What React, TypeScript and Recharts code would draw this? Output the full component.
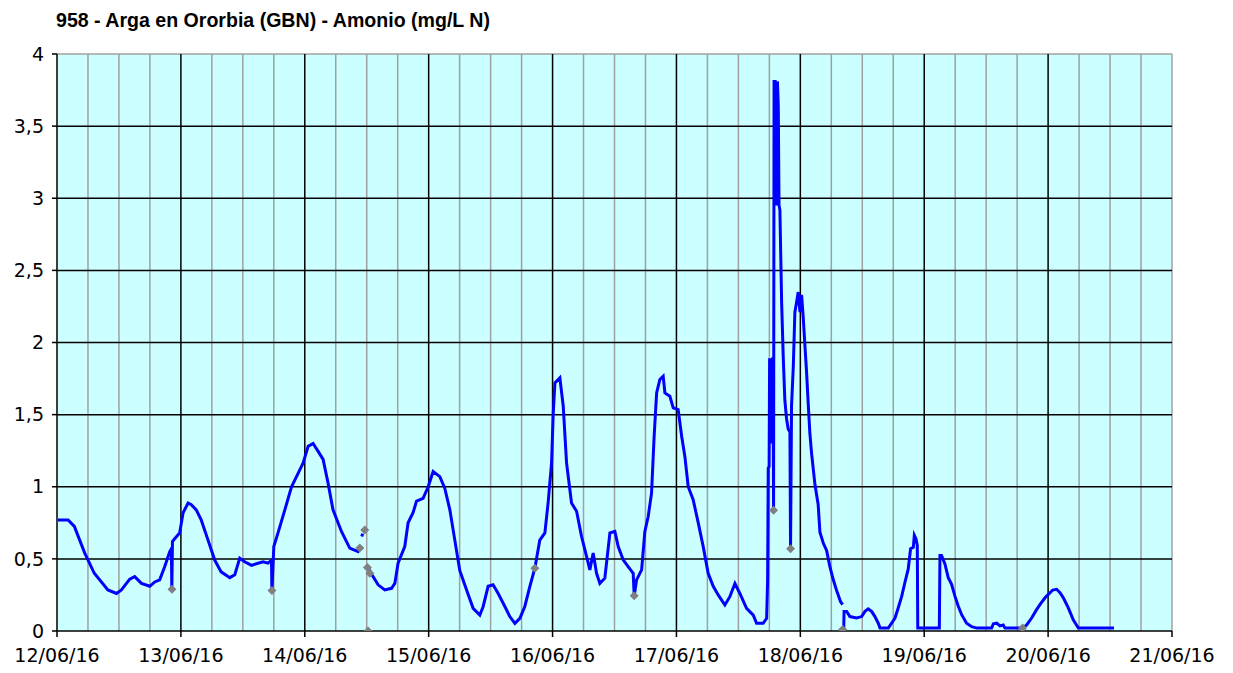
import { ComposedChart, Line, Scatter, XAxis, YAxis, ReferenceLine, ReferenceArea } from "recharts"

// time in days since 12/06/16 00:00, null = gap in the record
const lineT = [
  0.008, 0.09, 0.14, 0.224, 0.301, 0.411, 0.48, 0.52, 0.587, 0.627, 0.682, 0.749, 0.789, 0.829, 0.869, 0.91, 0.923, 0.927,
  0.932, 0.95, 0.99, 1.018, 1.058, 1.084, 1.124, 1.164, 1.219, 1.274, 1.325, 1.395, 1.435, 1.475, 1.515, 1.57, 1.623,
  1.663, 1.703, 1.731, 1.735, 1.75, 1.784, 1.839, 1.893, 1.947, 1.987, 2.027, 2.067, 2.108, 2.148, 2.188, 2.228,
  2.296, 2.363, 2.43, 2.458, 2.459, 2.46, 2.467, 2.48, 2.505, 2.551, 2.592, 2.646, 2.7, 2.727, 2.753, 2.807, 2.834, 2.874,
  2.902, 2.955, 2.996, 3.036, 3.09, 3.13, 3.171, 3.211, 3.251, 3.306, 3.359, 3.413, 3.44, 3.48, 3.52, 3.561, 3.615, 3.655,
  3.696, 3.736, 3.776, 3.817, 3.857, 3.897, 3.938, 3.964, 3.992, 4.005, 4.019, 4.059, 4.086, 4.113, 4.153, 4.194, 4.234,
  4.275, 4.301, 4.328, 4.355, 4.382,
  4.422, 4.463, 4.503, 4.53, 4.57, 4.61, 4.651, 4.659, 4.678, 4.719, 4.745, 4.772, 4.799, 4.82, 4.84, 4.866, 4.893, 4.907,
  4.947, 4.974, 5.014, 5.042, 5.068, 5.095, 5.135, 5.176, 5.216, 5.256, 5.297, 5.337, 5.391, 5.431, 5.472, 5.512, 5.566,
  5.62, 5.647, 5.7, 5.728, 5.736,
  5.741, 5.748, 5.752, 5.756, 5.761, 5.765, 5.77, 5.774, 5.779, 5.784, 5.788, 5.793, 5.797, 5.802, 5.806, 5.811, 5.815,
  5.822, 5.828, 5.835, 5.849, 5.862, 5.875, 5.889, 5.902, 5.916, 5.921, 5.929, 5.943, 5.956, 5.97, 5.983, 5.997, 6.01,
  6.023, 6.037, 6.05, 6.064, 6.077, 6.091, 6.118, 6.144, 6.158, 6.185, 6.212, 6.239, 6.266, 6.293, 6.325, 6.341,
  6.346, 6.35, 6.353, 6.374, 6.4, 6.454, 6.495, 6.522, 6.548, 6.575, 6.602, 6.629, 6.643, 6.71, 6.737, 6.764, 6.79, 6.818,
  6.844, 6.871, 6.89, 6.912, 6.92, 6.933, 6.944, 6.948, 7.122, 7.127, 7.14, 7.167, 7.194, 7.221, 7.248, 7.275, 7.302,
  7.342, 7.383, 7.423, 7.544, 7.558, 7.585, 7.611, 7.638, 7.652, 7.794, 7.827, 7.867, 7.907, 7.934, 7.975, 8.002, 8.037,
  8.069, 8.096, 8.123, 8.163, 8.203, 8.244, 8.532,
]
const lineV = [
  0.77, 0.77, 0.725, 0.54, 0.4, 0.285, 0.26, 0.285, 0.36, 0.377, 0.33, 0.31, 0.34, 0.355, 0.445, 0.55, 0.57, 0.29,
  0.62, 0.64, 0.68, 0.82, 0.887, 0.875, 0.84, 0.77, 0.63, 0.49, 0.41, 0.37, 0.39, 0.505, 0.48, 0.455, 0.47,
  0.48, 0.47, 0.49, 0.28, 0.585, 0.68, 0.84, 1.0, 1.095, 1.165, 1.28, 1.3, 1.245, 1.19, 1.025, 0.84,
  0.69, 0.574, 0.55, 0.59, null, 0.655, 0.675, null, 0.45, 0.377, 0.32, 0.285, 0.296, 0.33, 0.47, 0.585, 0.75, 0.82,
  0.9, 0.92, 1.0, 1.106, 1.07, 0.99, 0.84, 0.63, 0.42, 0.285, 0.157, 0.11, 0.17, 0.31, 0.32, 0.26, 0.17, 0.1,
  0.053, 0.088, 0.17, 0.31, 0.435, 0.63, 0.68, 0.887, 1.165, 1.5, 1.72, 1.755, 1.56, 1.165, 0.887, 0.83, 0.655,
  0.516, 0.424, 0.54, 0.4, 0.33,
  0.366, 0.68, 0.69, 0.585, 0.493, 0.446, 0.4, 0.243, 0.354, 0.424, 0.69, 0.794, 0.956, 1.35, 1.65, 1.743, 1.766, 1.65,
  1.627, 1.547, 1.535, 1.35, 1.21, 1.0, 0.91, 0.75, 0.585, 0.4, 0.31, 0.25, 0.18, 0.238, 0.33, 0.26, 0.157,
  0.11, 0.053, 0.053, 0.088, 0.354,
  1.13, 1.14, 1.89, 1.3, 1.89, 1.3, 1.89, 1.3, 1.9, 0.837, 3.82, 2.95, 3.82, 2.95, 3.81, 2.95, 3.81,
  3.64, 2.95, 2.92, 2.28, 1.9, 1.6, 1.47, 1.4, 1.38, 0.571, 1.56, 1.83, 2.21, 2.28, 2.35, 2.21, 2.33,
  2.18, 1.98, 1.8, 1.57, 1.37, 1.23, 1.015, 0.876, 0.685, 0.61, 0.558, 0.444, 0.355, 0.28, 0.203, 0.183,
  null, 0.0, 0.136, 0.136, 0.1, 0.09, 0.1, 0.136, 0.153, 0.136, 0.1, 0.054, 0.02, 0.02, 0.054, 0.09, 0.16, 0.24,
  0.336, 0.43, 0.57, 0.58, 0.664, 0.64, 0.594, 0.02, 0.02, 0.523, 0.523, 0.465, 0.37, 0.324, 0.242, 0.171, 0.113,
  0.054, 0.03, 0.02, 0.02, 0.05, 0.054, 0.035, 0.042, 0.02, 0.02, 0.042, 0.09, 0.148, 0.183, 0.23, 0.254, 0.284,
  0.289, 0.265, 0.23, 0.16, 0.077, 0.02, 0.02,
]

// flagged (grey) samples
const flagT = [0.928, 1.735, 2.444, 2.484, 2.506, 2.525, 2.511, 3.857, 4.659, 5.784, 5.921, 6.342, 7.794]
const flagV = [0.29, 0.28, 0.575, 0.7, 0.44, 0.4, 0.0, 0.435, 0.245, 0.837, 0.571, 0.01, 0.02]

const dayLabels = ["12/06/16", "13/06/16", "14/06/16", "15/06/16", "16/06/16", "17/06/16", "18/06/16", "19/06/16", "20/06/16", "21/06/16"]
const yTicks = [0, 0.5, 1, 1.5, 2, 2.5, 3, 3.5, 4]

const series = lineT.map((t, i) => ({ t, v: lineV[i] }))
const flags = flagT.map((t, i) => ({ t, v: flagV[i] }))
const dayTicks = dayLabels.map((_, i) => i)
const quarterLines = Array.from({ length: 36 }, (_, i) => (i + 1) / 4).filter((q) => q % 1 !== 0)

const tickStyle = { fontFamily: "DejaVu Sans, Verdana, sans-serif", fontSize: 19, fill: "#000" }

function Diamond(props: any) {
  const { cx, cy } = props
  const r = 4.5
  return <polygon points={`${cx},${cy - r} ${cx + r},${cy} ${cx},${cy + r} ${cx - r},${cy}`} fill="#808080" />
}

export default function App() {
  return (
    <div style={{ position: "absolute", left: 0, top: 0, width: 1233, height: 673, background: "#fff" }}>
      <svg width={1233} height={40} style={{ position: "absolute", left: 0, top: 0 }}>
        <text
          x={56}
          y={26.5}
          textLength={434}
          lengthAdjust="spacingAndGlyphs"
          style={{ fontFamily: "Liberation Sans, Arial, sans-serif", fontSize: 21, fontWeight: "bold" }}
          fill="#000"
        >
          958 - Arga en Ororbia (GBN) - Amonio (mg/L N)
        </text>
      </svg>
      <ComposedChart width={1233} height={673} margin={{ top: 54, right: 61, left: 0, bottom: 12 }}>
        <XAxis
          dataKey="t"
          type="number"
          domain={[0, 9]}
          ticks={dayTicks}
          tickFormatter={(d) => dayLabels[d]}
          allowDataOverflow
          height={30}
          stroke="#000"
          strokeWidth={1.5}
          tickSize={6}
          tickMargin={12}
          tick={tickStyle}
          interval={0}
        />
        <YAxis
          type="number"
          domain={[0, 4]}
          ticks={yTicks}
          tickFormatter={(v) => String(v).replace(".", ",")}
          allowDataOverflow
          width={57}
          stroke="#000"
          strokeWidth={1.5}
          tickSize={5}
          tickMargin={8}
          tick={tickStyle}
          interval={0}
        />
        <ReferenceArea x1={0} x2={9} y1={0} y2={4} fill="#ccffff" fillOpacity={1} stroke="none" />
        {quarterLines.map((q) => (
          <ReferenceLine key={`q${q}`} x={q} stroke="#a0a0a0" strokeWidth={1.5} />
        ))}
        <ReferenceLine x={9} stroke="#a0a0a0" strokeWidth={1.5} />
        <ReferenceLine y={4} stroke="#a0a0a0" strokeWidth={1.5} />
        {dayTicks.slice(1, -1).map((d) => (
          <ReferenceLine key={`d${d}`} x={d} stroke="#000" strokeWidth={1.5} />
        ))}
        {yTicks.slice(1, -1).map((y) => (
          <ReferenceLine key={`y${y}`} y={y} stroke="#000" strokeWidth={1.5} />
        ))}
        <Line
          data={series}
          dataKey="v"
          type="linear"
          stroke="#0000ff"
          strokeWidth={3}
          dot={false}
          connectNulls={false}
          isAnimationActive={false}
        />
        <Scatter data={flags} dataKey="v" shape={Diamond} isAnimationActive={false} />
      </ComposedChart>
    </div>
  )
}
